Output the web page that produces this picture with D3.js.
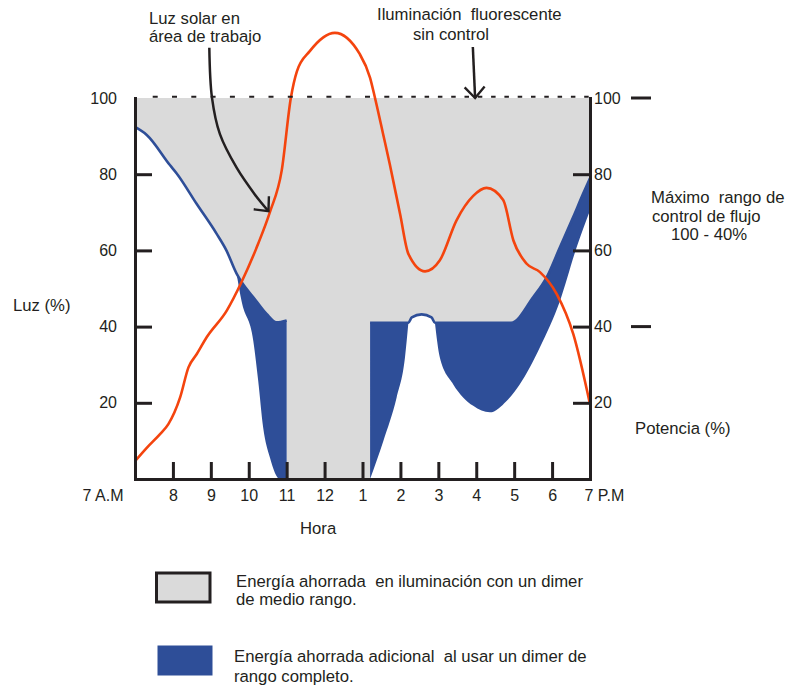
<!DOCTYPE html>
<html><head><meta charset="utf-8">
<script src="https://cdn.jsdelivr.net/npm/d3@7"></script>
<style>
html,body{margin:0;padding:0;background:#fff;}
svg text{font-family:"Liberation Sans",Arial,sans-serif;font-size:16px;fill:#231f20;white-space:pre;}
svg text.note{font-size:16.7px;}
</style></head><body>
<svg id="chart" width="786" height="686" xmlns="http://www.w3.org/2000/svg"></svg>
<script>
// ---------------- data ----------------
const hourTicks  = [7, 8, 9, 10, 11, 12, 13, 14, 15, 16, 17, 18, 19];
const hourLabels = ["7 A.M", "8", "9", "10", "11", "12", "1", "2", "3", "4", "5", "6", "7 P.M"];
const levelTicks = [20, 40, 60, 80, 100];
const flowRangeLimits = [100, 40];           // Máximo rango de control de flujo 100 - 40%
const uncontrolledLevel = 100;               // Iluminación fluorescente sin control

// Luz solar en área de trabajo  [hora, %]
const sunlight = [
  [7.0, 4.7], [7.31, 8.2], [7.66, 11.8], [7.88, 14.4], [8.19, 21.4], [8.41, 29.3],
  [8.63, 32.8], [8.89, 37.2], [9.42, 44.2], [9.81, 51.7], [10.25, 61.8], [10.56, 70.1],
  [10.87, 81.0], [11.11, 100.0], [11.27, 107.0], [11.61, 112.3], [12.27, 117.1],
  [12.93, 111.5], [13.2, 105.3], [13.33, 100.0], [13.54, 90.7], [13.72, 82.6],
  [13.99, 69.6], [14.21, 59.1], [14.65, 54.5], [15.04, 57.4], [15.48, 67.9],
  [15.92, 74.3], [16.27, 76.4], [16.71, 73.2], [16.98, 62.6], [17.33, 56.5],
  [17.68, 54.3], [18.12, 48.6], [18.56, 38.0], [19.0, 19.6]
];

// Dimer de medio rango (potencia, %)
const halfRangeMorning = [
  [7.0, 92.4], [7.31, 90.3], [7.92, 82.4], [8.1, 80.2], [8.62, 72.3], [9.15, 64.4],
  [9.41, 60.0], [9.68, 53.9], [9.81, 51.7], [10.12, 47.7], [10.47, 43.3], [10.73, 41.1],
  [11.0, 41.6]
];
const halfRangeAfternoon = [
  [13.2, 41], [14.21, 41], [14.3, 42.4], [14.56, 43.2], [14.82, 42.4], [14.91, 41],
  [16.92, 41], [17.5, 47.7], [17.86, 53.0], [18.21, 60.9], [18.56, 68.8],
  [18.82, 74.9], [19.0, 78.9]
];

// Dimer de rango completo (potencia, %)
const fullRangeMorning = [
  [9.68, 53.9], [9.81, 46.7], [10.12, 36.2], [10.25, 25.7], [10.38, 13.5],
  [10.56, 5.6], [10.82, 0], [11.0, 0]
];
const fullRangeEarlyAfternoon = [
  [13.2, 0], [13.55, 10.0], [13.9, 21.4], [14.12, 31.9], [14.21, 41]
];
const fullRangeLateAfternoon = [
  [14.91, 41], [15.04, 31.9], [15.39, 24.9], [15.92, 19.2], [16.36, 17.5],
  [16.8, 20.5], [17.15, 24.9], [17.68, 34.6], [18.21, 46.8], [18.65, 60.9], [19.0, 70.5]
];

// annotation arrows [hora, %]
const sunArrow = [[8.96, 113.2], [9.03, 100.1], [9.24, 90.5], [9.68, 81.7], [10.16, 74.7], [10.52, 70.3]];
const fluorArrow = [[15.91, 113.4], [15.97, 100]];

// ---------------- drawing ----------------
const INK = "#231f20", GRAY = "#dadada", BLUE = "#2e4e98", RED = "#f4440e";
const svg = d3.select("#chart");
const x = d3.scaleLinear().domain([7, 19]).range([135, 590]);
const y = d3.scaleLinear().domain([0, 100]).range([479, 98]);
const line = d3.line().x(d => x(d[0])).y(d => y(d[1])).curve(d3.curveMonotoneX);
const cont = s => s.replace(/^M/, "L");
const pt = (h, v) => `L${x(h)},${y(v)}`;

// gray: energy saved with half range dimmer
const xm = halfRangeMorning[halfRangeMorning.length - 1][0];
const xa = halfRangeAfternoon[0][0];
const grayPath = line(halfRangeMorning) + pt(xm, 0) + pt(xa, 0) + cont(line(halfRangeAfternoon))
  + pt(19, uncontrolledLevel) + pt(7, uncontrolledLevel) + "Z";
svg.append("path").attr("d", grayPath).attr("fill", GRAY);

// blue: additional energy saved with full range dimmer
function lobe(upperAll, lower) {
  const lo = lower[0][0], hi = lower[lower.length - 1][0];
  const up = upperAll.filter(d => d[0] >= lo - 1e-9 && d[0] <= hi + 1e-9);
  return line(up) + cont(line(lower.slice().reverse())) + "Z";
}
[[halfRangeMorning, fullRangeMorning],
 [halfRangeAfternoon, fullRangeEarlyAfternoon],
 [halfRangeAfternoon, fullRangeLateAfternoon]].forEach(([u, l]) => {
  svg.append("path").attr("d", lobe(u, l)).attr("fill", BLUE);
});

// blue outline of half range dimmer
[halfRangeMorning, halfRangeAfternoon].forEach(s => {
  svg.append("path").attr("d", line(s)).attr("fill", "none")
    .attr("stroke", BLUE).attr("stroke-width", 2.6);
});

// red sunlight
svg.append("path").attr("d", line(sunlight)).attr("fill", "none")
  .attr("stroke", RED).attr("stroke-width", 2.6);

// dashed 100% line (uncontrolled)
svg.append("line").attr("x1", 152.7).attr("x2", 390).attr("y1", y(uncontrolledLevel) - 1.3).attr("y2", y(uncontrolledLevel) - 1.3)
  .attr("stroke", INK).attr("stroke-width", 2).attr("stroke-dasharray", "5 14.3");
svg.append("line").attr("x1", 398).attr("x2", 592).attr("y1", y(uncontrolledLevel) - 1.3).attr("y2", y(uncontrolledLevel) - 1.3)
  .attr("stroke", INK).attr("stroke-width", 2).attr("stroke-dasharray", "4.5 8.8");

// axes
function styleAxis(g) {
  g.attr("font-family", null).attr("font-size", null);
  g.selectAll("path.domain").attr("stroke", INK).attr("stroke-width", 3).attr("stroke-linecap", "square");
  g.selectAll(".tick line").attr("stroke", INK).attr("stroke-width", 3);
  g.selectAll(".tick text").attr("fill", INK);
}
const gl = svg.append("g").attr("transform", `translate(${x(7)},0)`)
  .call(d3.axisLeft(y).tickValues(levelTicks).tickSizeInner(-17).tickSizeOuter(0).tickPadding(18))
  .call(styleAxis);
gl.selectAll(".tick").filter(d => d === 100).select("line").remove();

const gr = svg.append("g").attr("transform", `translate(${x(19)},0)`)
  .call(d3.axisRight(y).tickValues(levelTicks).tickSizeInner(-17).tickSizeOuter(0).tickPadding(4))
  .call(styleAxis);
gr.selectAll(".tick").filter(d => d === 100).select("line").remove();

const gb = svg.append("g").attr("transform", `translate(0,${y(0)})`)
  .call(d3.axisBottom(x).tickValues(hourTicks).tickSizeInner(-17).tickSizeOuter(0).tickPadding(11)
    .tickFormat((d, i) => hourLabels[i]))
  .call(styleAxis);
gb.selectAll(".tick").filter(d => d === 7 || d === 19).select("line").remove();
gb.selectAll(".tick").filter(d => d === 7).select("text").attr("text-anchor", "end").attr("x", -12);
gb.selectAll(".tick").filter(d => d === 19).select("text").attr("text-anchor", "start").attr("x", -6);

// outside range marks
flowRangeLimits.forEach(v => {
  svg.append("line").attr("x1", 631).attr("x2", 651).attr("y1", y(v)).attr("y2", y(v))
    .attr("stroke", INK).attr("stroke-width", 3);
});

// arrows
svg.append("defs").append("marker").attr("id", "vhead")
  .attr("markerUnits", "userSpaceOnUse").attr("viewBox", "-16 -14 18 28")
  .attr("refX", 0).attr("refY", 0).attr("markerWidth", 18).attr("markerHeight", 28)
  .attr("orient", "auto").style("overflow", "visible")
  .append("path").attr("d", "M-11,-10L0,0L-11,10").attr("fill", "none")
  .attr("stroke", INK).attr("stroke-width", 2.4);
const aline = d3.line().x(d => x(d[0])).y(d => y(d[1])).curve(d3.curveCatmullRom);
svg.append("path").attr("d", aline(sunArrow)).attr("fill", "none").attr("stroke", INK)
  .attr("stroke-width", 2.5).attr("marker-end", "url(#vhead)");
svg.append("path").attr("d", d3.line().x(d => x(d[0])).y(d => y(d[1]))(fluorArrow)).attr("fill", "none").attr("stroke", INK)
  .attr("stroke-width", 2.5).attr("marker-end", "url(#vhead)");

// texts
const texts = [
  ["Luz solar en", 149, 23.5], ["área de trabajo", 149, 42],
  ["Iluminación  fluorescente", 377, 20], ["sin control", 413, 40],
  ["Luz (%)", 13, 311], ["Hora", 300, 534],
  ["Potencia (%)", 635, 434],
  ["Máximo  rango de", 651, 203], ["control de flujo", 652, 222], ["100 - 40%", 671, 240],
  ["Energía ahorrada  en iluminación con un dimer", 236, 586.5], ["de medio rango.", 236, 605],
  ["Energía ahorrada adicional  al usar un dimer de", 234, 662], ["rango completo.", 234, 682]
];
texts.forEach(([t, tx, ty]) => svg.append("text").attr("class", "note").attr("x", tx).attr("y", ty).text(t));

// legend swatches
svg.append("rect").attr("x", 156.5).attr("y", 573).attr("width", 53.5).attr("height", 29)
  .attr("fill", GRAY).attr("stroke", INK).attr("stroke-width", 3);
svg.append("rect").attr("x", 157.5).attr("y", 645.5).attr("width", 55).attr("height", 30)
  .attr("fill", BLUE);
</script>
</body></html>
